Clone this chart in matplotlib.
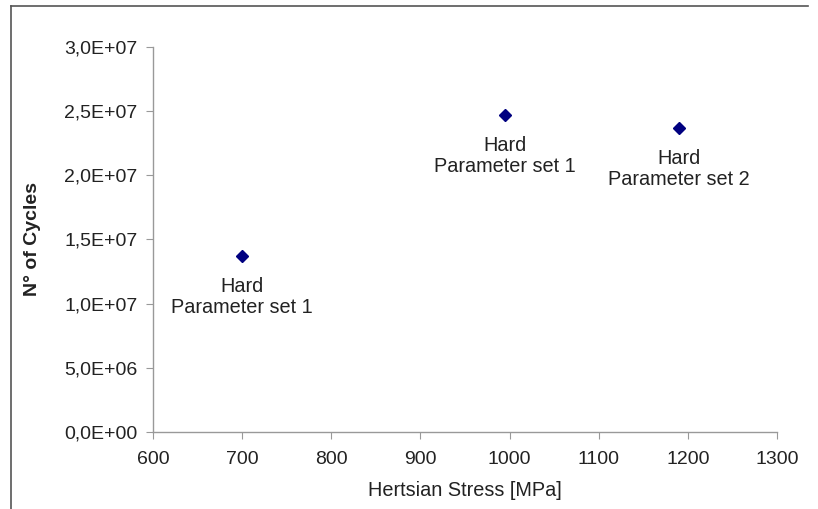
import matplotlib.pyplot as plt
from matplotlib.lines import Line2D
from matplotlib.ticker import FuncFormatter

plt.rcParams['font.family'] = ['Liberation Sans', 'DejaVu Sans']

# data
stress = [700, 995, 1190]
cycles = [1.37e7, 2.47e7, 2.37e7]
labels = ['Hard\nParameter set 1', 'Hard\nParameter set 1', 'Hard\nParameter set 2']

fig = plt.figure(figsize=(8.18, 5.09), dpi=100)
ax = fig.add_axes([0.187, 0.1513, 0.763, 0.7564])

ax.plot(stress, cycles, 'D', color='#000080', markersize=6.5, linestyle='none')

for x, y, lab in zip(stress, cycles, labels):
    ax.annotate(lab, (x, y), xytext=(0, -21), textcoords='offset pixels',
                ha='center', va='top', fontsize=14.3, color='#222222',
                linespacing=1.12)

ax.set_xlim(600, 1300)
ax.set_ylim(0, 3.0e7)
ax.set_xticks(range(600, 1301, 100))
ax.set_yticks([i * 5e6 for i in range(7)])
ax.yaxis.set_major_formatter(FuncFormatter(lambda v, p: f"{v:.1E}".replace('.', ',')))

for s in ['top', 'right']:
    ax.spines[s].set_visible(False)
for s in ['left', 'bottom']:
    ax.spines[s].set_color('#999999')
    ax.spines[s].set_linewidth(1.0)
ax.tick_params(direction='out', length=5, color='#999999', labelsize=14,
               labelcolor='#222222')
ax.tick_params(axis='x', pad=9)
ax.tick_params(axis='y', pad=6)

ax.set_xlabel('Hertsian Stress [MPa]', fontsize=14.3, color='#222222', labelpad=9)
ax.set_ylabel('N° of Cycles', fontsize=14, fontweight='bold', color='#222222',
              labelpad=17)

# frame lines (left and top)
fig.add_artist(Line2D([11 / 818, 11 / 818], [0, 1 - 5.5 / 509], color='#555555', lw=1.2))
fig.add_artist(Line2D([11 / 818, 808 / 818], [1 - 5.5 / 509, 1 - 5.5 / 509], color='#555555', lw=1.2))

fig.savefig('out.png', dpi=100)
